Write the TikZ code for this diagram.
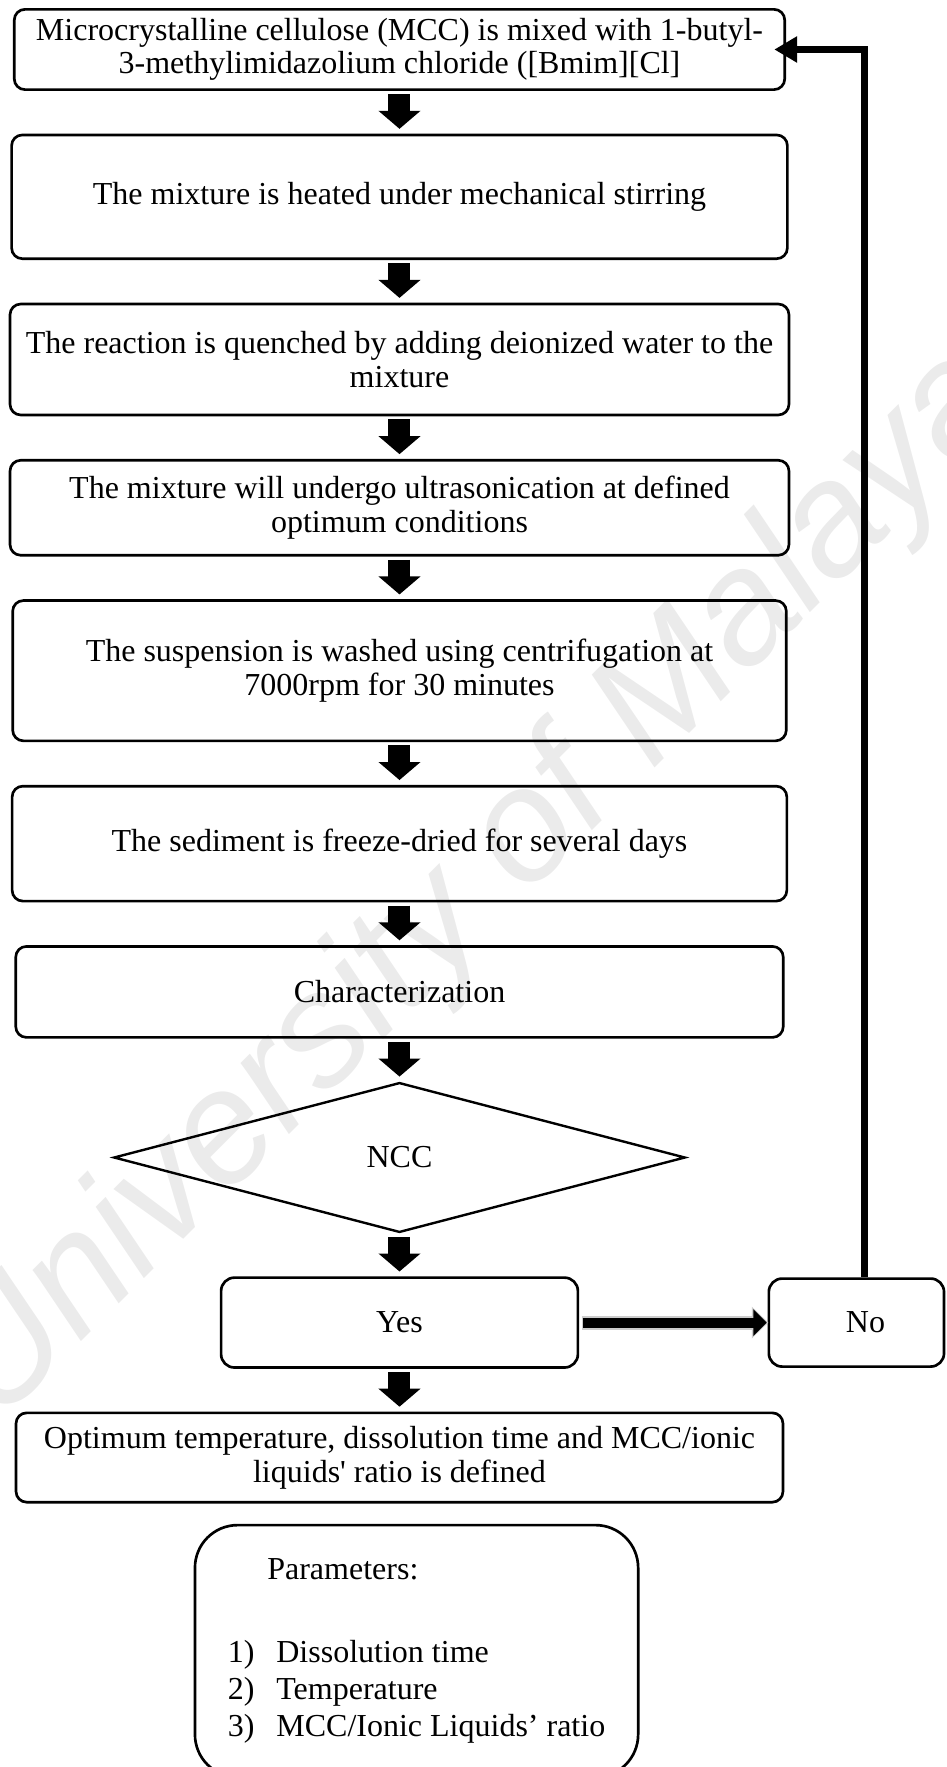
\documentclass[tikz,border=0pt]{standalone}
\usepackage{fontspec}
\setmainfont{Liberation Serif}
\setsansfont{Liberation Sans}
\usetikzlibrary{arrows.meta, positioning, shapes.geometric, calc}
\definecolor{markgray}{rgb}{0.92, 0.92, 0.92}
\definecolor{shadowgray}{rgb}{0.8, 0.8, 0.8}

\begin{document}
\begin{tikzpicture}[
		node distance=16pt,
		procbox/.style={draw, line width=1pt, rounded corners=4pt, align=center, inner sep=0pt, font=\fontsize{12}{12.6}\selectfont},
		decision/.style={draw, diamond, line width=0.9pt, aspect=3.8, minimum width=214.3pt, minimum height=56.2pt, inner sep=0pt, font=\fontsize{12}{12.6}\selectfont},
		parambox/.style={draw, line width=1pt, rounded corners=16pt, minimum width=166.2pt, minimum height=94.5pt, align=left, inner sep=0pt, font=\fontsize{12}{14}\selectfont},
		blockarrow/.style={line width=8.25pt, -{Triangle[width=15.4pt, length=6.75pt]}, shorten <=1.2pt, shorten >=1.8pt},
		sidearrow/.style={line width=3.75pt, -{Triangle[width=9.75pt, length=5pt]}, shorten <=1.3pt, shorten >=0.3pt},
		loopline/.style={line width=2.8pt, -{Triangle[width=9.4pt, length=8.6pt]}, shorten >=-4.4pt}
	]
	\useasboundingbox (-149.81pt,18.56pt) rectangle (204.94pt,-644.06pt);
	% watermark behind everything
	\node[rotate=45, text=markgray, font=\fontsize{60}{60}\sffamily\itshape] (mark) at (29.4pt,-314pt) {University of Malaya};

	\node[procbox, minimum width=288.9pt, minimum height=30.1pt] (mix) at (0,0) {Microcrystalline cellulose (MCC) is mixed with 1-butyl-\\3-methylimidazolium chloride ([Bmim][Cl]};
	\node[procbox, below=of mix, minimum width=290.9pt, minimum height=46.4pt] (heat) {The mixture is heated under mechanical stirring};
	\node[procbox, below=of heat, minimum width=292.1pt, minimum height=41.6pt] (quench) {The reaction is quenched by adding deionized water to the\\mixture};
	\node[procbox, below=of quench, minimum width=292.1pt, minimum height=35.6pt] (sonic) {The mixture will undergo ultrasonication at defined\\optimum conditions};
	\node[procbox, below=of sonic, minimum width=290.1pt, minimum height=52.6pt] (wash) {The suspension is washed using centrifugation at\\7000rpm for 30 minutes};
	\node[procbox, below=of wash, minimum width=290.5pt, minimum height=43.1pt] (dry) {The sediment is freeze-dried for several days};
	\node[procbox, below=of dry, minimum width=287.8pt, minimum height=34.1pt] (char) {Characterization};
	\node[decision, below=of char] (ncc) {NCC};
	\node[procbox, below=of ncc, minimum width=133.8pt, minimum height=33.7pt, rounded corners=5pt] (yes) {Yes};
	\node[procbox, right=70.6pt of yes, minimum width=65.7pt, minimum height=33pt, rounded corners=5pt] (no) {\hspace*{6.8pt}No};
	\node[procbox, below=of yes, minimum width=287.6pt, minimum height=33.5pt] (optimum) {Optimum temperature, dissolution time and MCC/ionic\\liquids\textquotesingle{} ratio is defined};
	\node[parambox, below=7.6pt of optimum, xshift=6.4pt] (params) {\hspace*{14.8pt}Parameters:\\[17pt]
		\makebox[18.2pt][l]{1)}Dissolution time\\
		\makebox[18.2pt][l]{2)}Temperature\\
		\makebox[18.2pt][l]{3)}MCC/Ionic Liquids’ ratio};

	% block arrows down the chain
	\foreach \a/\b in {mix/heat, heat/quench, quench/sonic, sonic/wash, wash/dry, dry/char, char/ncc, ncc/yes, yes/optimum}
		\draw[blockarrow] (\a.south) -- (\a.south |- \b.north);

	% yes -> no, with its grey shadow
	\draw[sidearrow, shadowgray, line width=5.3pt, -{Triangle[width=11.6pt, length=6.2pt]}, shorten <=0.9pt, shorten >=-0.3pt] (yes.east) -- (yes.east -| no.west);
	\draw[sidearrow] (yes.east) -- (yes.east -| no.west);

	% back to the start
	\coordinate (loop) at ([xshift=3pt]no.north |- mix.east);
	\draw[loopline] ([xshift=3pt]no.north) -- (loop) -- (mix.east);
\end{tikzpicture}
\end{document}
